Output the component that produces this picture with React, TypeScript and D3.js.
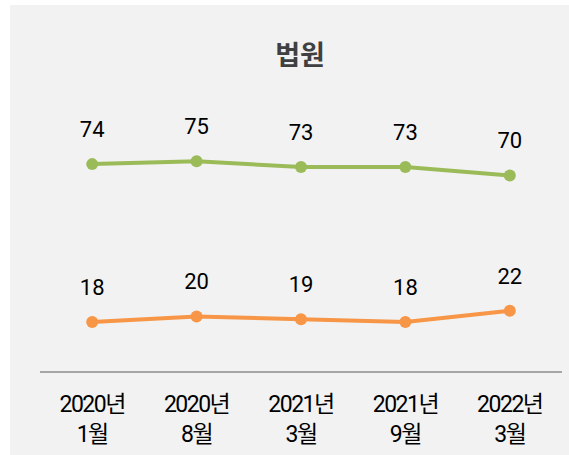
import React from "react";
import * as d3 from "d3";

const categories = ["2020년\n1월", "2020년\n8월", "2021년\n3월", "2021년\n9월", "2022년\n3월"];
const greenValues = [74, 75, 73, 73, 70];
const orangeValues = [18, 20, 19, 18, 22];
const title = "법원";

const W = 569;
const H = 455;
const FONT = "Roboto, 'Noto Sans CJK KR', sans-serif";

export default function App() {
  const x = d3.scalePoint<string>().domain(categories).range([40, 562]).padding(0.5);
  const y = d3.scaleLinear().domain([0, 100]).range([372.8, 90.8]);

  const series = [
    { values: greenValues, color: "#9bbb59" },
    { values: orangeValues, color: "#f79646" },
  ];

  const line = d3
    .line<number>()
    .x((_, i) => x(categories[i]) as number)
    .y((d) => y(d));

  return (
    <svg
      width={W}
      height={H}
      style={{ position: "absolute", left: 0, top: 0, display: "block" }}
      fontFamily={FONT}
    >
      <rect x={0} y={0} width={W} height={H} fill="#ffffff" />
      <rect x={10} y={5} width={W - 10} height={H - 5} fill="#f2f2f2" />
      <text
        x={300}
        y={65}
        textAnchor="middle"
        fontSize={27}
        fontWeight="bold"
        fill="#404040"
        fontFamily="'Noto Sans CJK KR', sans-serif"
      >
        {title}
      </text>
      <line x1={40} x2={562} y1={372} y2={372} stroke="#a6a6a6" strokeWidth={2} />
      {series.map((s, si) => (
        <g key={si}>
          <path d={line(s.values) || ""} fill="none" stroke={s.color} strokeWidth={4} strokeLinecap="round" />
          {s.values.map((v, i) => (
            <circle key={i} cx={x(categories[i]) as number} cy={y(v)} r={6} fill={s.color} />
          ))}
          {s.values.map((v, i) => (
            <text
              key={"t" + i}
              x={x(categories[i]) as number}
              y={y(v) - 27}
              textAnchor="middle"
              fontSize={22}
              fill="#000000"
            >
              {v}
            </text>
          ))}
        </g>
      ))}
      {categories.map((c, i) => {
        const lines = c.split("\n");
        return (
          <text key={i} x={x(c) as number} textAnchor="middle" fontSize={23} fill="#000000" letterSpacing={-1.5}>
            {lines.map((l, li) => (
              <tspan key={li} x={x(c) as number} y={412 + li * 30}>
                {l}
              </tspan>
            ))}
          </text>
        );
      })}
    </svg>
  );
}
